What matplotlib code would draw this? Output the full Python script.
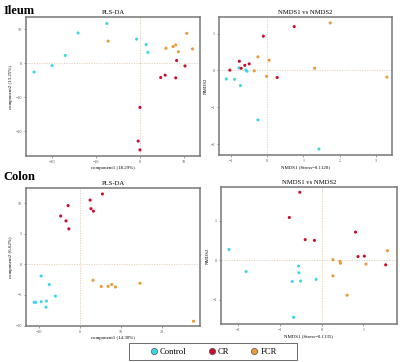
import matplotlib
matplotlib.use("Agg")
import matplotlib.pyplot as plt
from matplotlib.lines import Line2D
from matplotlib.patches import Rectangle

plt.rcParams['font.family'] = ['Liberation Serif', 'DejaVu Serif']

groups = ["Control", "CR", "FCR"]
colors = {"Control": "#3ED6E6", "CR": "#C4102E", "FCR": "#E89A3C"}

# Ileum PLS-DA
ileum_pls = {
    "Control": ([-24.0, -19.9, -16.9, -14.0, -7.5, -0.75, 1.4, 1.8],
                [-2.6, -0.7, 2.3, 8.9, 11.7, 7.1, 5.5, 3.2]),
    "CR": ([8.3, 10.2, 5.7, 4.7, 8.1, 0.0, -0.4, 0.0],
           [0.8, -0.8, -3.5, -4.2, -4.3, -13.0, -22.9, -25.5]),
    "FCR": ([-7.2, 5.9, 7.5, 8.1, 8.7, 10.6, 11.9],
            [6.5, 4.4, 4.9, 5.4, 3.4, 8.8, 4.2]),
}
# Ileum NMDS
ileum_nmds = {
    "Control": ([-1.12, -0.89, -0.73, -0.77, -0.58, -0.55, -0.25, 1.43],
                [-0.23, -0.24, -0.41, 0.07, 0.01, -0.02, -1.34, -2.13]),
    "CR": ([-1.02, -0.76, -0.71, -0.61, -0.49, -0.10, 0.28, 0.75],
           [0.01, 0.25, 0.06, 0.14, 0.18, 0.93, -0.19, 1.19]),
    "FCR": ([-0.35, -0.25, 0.06, -0.01, 1.31, 1.74, 3.30],
            [-0.01, 0.37, 0.28, -0.16, 0.06, 1.29, -0.18]),
}
# Colon PLS-DA
colon_pls = {
    "Control": ([-9.5, -7.5, -6.0, -11.2, -10.8, -9.5, -8.2, -8.3],
                [-1.9, -3.3, -5.2, -6.2, -6.2, -6.1, -6.0, -7.0]),
    "CR": ([-2.9, -4.7, -3.4, -2.7, 2.5, 2.7, 3.3, 5.5],
           [9.6, 7.9, 7.1, 5.8, 10.5, 9.1, 8.7, 11.5]),
    "FCR": ([3.2, 5.2, 6.9, 7.8, 8.7, 14.7, 27.8],
            [-2.6, -3.6, -3.6, -3.3, -3.7, -3.1, -9.3]),
}
# Colon NMDS
colon_nmds = {
    "Control": ([-2.21, -1.80, -0.55, -0.54, -0.70, -0.50, -0.13, -0.67],
                [0.27, -0.29, -0.15, -0.32, -0.54, -0.53, -0.49, -1.45]),
    "CR": ([-0.52, -0.77, -0.39, -0.17, 0.81, 0.87, 1.02, 1.53],
           [1.72, 1.08, 0.52, 0.50, 0.71, 0.09, 0.10, -0.12]),
    "FCR": ([0.27, 0.44, 0.45, 0.27, 0.61, 1.06, 1.57],
            [0.01, -0.03, -0.08, -0.40, -0.89, -0.10, 0.24]),
}

fig = plt.figure(figsize=(4.0, 3.62), dpi=100)

def panel(rect, data, title, xlabel, ylabel, xlim, ylim, xticks, yticks):
    ax = fig.add_axes(rect)
    ax.axhline(0, color="#dccbb8", lw=0.6, ls=(0, (1.5, 1.5)), zorder=1)
    ax.axvline(0, color="#dccbb8", lw=0.6, ls=(0, (1.5, 1.5)), zorder=1)
    for g in groups:
        xs, ys = data[g]
        ax.scatter(xs, ys, s=5, color=colors[g], edgecolors="none", zorder=3)
    ax.set_xlim(*xlim)
    ax.set_ylim(*ylim)
    ax.set_xticks(xticks)
    ax.set_yticks(yticks)
    ax.tick_params(labelsize=3, length=1.5, width=0.4, pad=1.5, colors="#555555")
    for s in ax.spines.values():
        s.set_color("#777777")
        s.set_linewidth(1.1)
    ax.set_title(title, fontsize=4.8, pad=2)
    ax.set_xlabel(xlabel, fontsize=3.5, labelpad=1.5)
    ax.set_ylabel(ylabel, fontsize=3.5, labelpad=1.5)
    return ax

panel([0.065, 0.569, 0.435, 0.384], ileum_pls, "PLS-DA",
      "component1 (18.29%)", "component2 (13.25%)",
      (-25.8, 13.6), (-27.3, 13.6), [-20, -10, 0, 10], [-20, -10, 0, 10])
panel([0.5475, 0.572, 0.4325, 0.381], ileum_nmds, "NMDS1 vs NMDS2",
      "NMDS1 (Stress=0.1120)", "NMDS2",
      (-1.32, 3.44), (-2.29, 1.45), [-1, 0, 1, 2, 3], [-2, -1, 0, 1])
panel([0.065, 0.099, 0.435, 0.382], colon_pls, "PLS-DA",
      "component1 (14.30%)", "component2 (6.62%)",
      (-13.2, 29.4), (-10.1, 12.5), [-10, 0, 10, 20], [-10, -5, 0, 5, 10])
panel([0.5525, 0.105, 0.44, 0.378], colon_nmds, "NMDS1 vs NMDS2",
      "NMDS1 (Stress=0.1135)", "NMDS2",
      (-2.4, 1.8), (-1.62, 1.85), [-2, -1, 0, 1], [-1, 0, 1])

fig.text(0.008, 0.985, "Ileum", fontsize=9, fontweight="bold", va="top", ha="left")
fig.text(0.008, 0.527, "Colon", fontsize=9, fontweight="bold", va="top", ha="left")

handles = [Line2D([], [], marker="o", ls="none", markersize=4.5,
                  markerfacecolor=colors[g], markeredgecolor="#333333",
                  markeredgewidth=0.4, label=g) for g in groups]
leg = fig.legend(handles=handles, loc="center", bbox_to_anchor=(0.533, 0.0285),
                 ncol=3, fontsize=6.2, frameon=False,
                 handletextpad=0.2, columnspacing=2.4, borderpad=0.3,
                 handlelength=1.0)
fig.patches.append(Rectangle((129 / 400, 1 - 360 / 362), 168 / 400, 17 / 362,
                             transform=fig.transFigure, fill=False,
                             edgecolor="#555555", linewidth=0.6))

fig.savefig("out.png", dpi=100)
